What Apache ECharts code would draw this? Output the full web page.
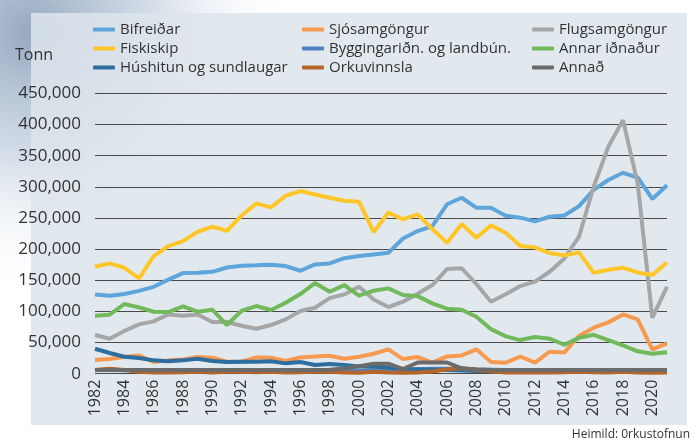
<!DOCTYPE html>
<html>
<head>
<meta charset="utf-8">
<script src="https://cdn.jsdelivr.net/npm/echarts@6/dist/echarts.min.js"></script>
<style>
  html, body { margin: 0; padding: 0; background: #fff; }
  #chart { width: 697px; height: 443px; }
</style>
</head>
<body>
<div id="chart"></div>
<script>
'use strict';

var years = [];
for (var y = 1982; y <= 2021; y++) years.push(String(y));

// tonn, lesið af myndinni
var bifreidar = [127000, 125000, 128000, 133000, 139500, 151000, 161500, 162000, 163500, 170500,
  173300, 174000, 175000, 172800, 165300, 175500, 177000, 185500, 189000, 191500,
  194000, 217000, 229000, 237000, 272000, 282500, 266500, 266500, 253500, 250500,
  244500, 252000, 254000, 269000, 295000, 311000, 322500, 315000, 280500, 302500];
var sjosamgongur = [21900, 23500, 27300, 29400, 18700, 21400, 23000, 26700, 25700, 19300,
  19300, 26200, 25700, 20300, 26200, 27800, 28900, 24100, 27300, 32000,
  39100, 23500, 26700, 17700, 27800, 29400, 39100, 18700, 17700, 27300,
  17700, 35300, 34200, 60500, 73800, 82400, 95200, 87200, 39100, 48700];
var flugsamgongur = [62100, 56200, 68500, 79200, 84000, 95200, 93100, 95200, 82900, 82900,
  77000, 72200, 78100, 87200, 100600, 105900, 121400, 127300, 139600, 119000,
  107000, 115600, 128500, 142300, 168000, 169300, 144000, 115600, 127500, 140700,
  147700, 163700, 185100, 219900, 300100, 364300, 407100, 305500, 89900, 139600];
var fiskiskip = [171700, 177100, 170100, 153000, 188900, 204900, 212900, 227900, 235900, 229500,
  254100, 273400, 267000, 285700, 293200, 287800, 282500, 277700, 276100, 227600,
  258900, 247700, 255700, 232200, 210300, 240200, 218300, 238100, 226300, 204900,
  202800, 193700, 189900, 194700, 162100, 166900, 170100, 162600, 158400, 178700];
var byggingaridn = [6000, 6000, 5500, 5500, 5000, 5000, 5000, 5000, 5000, 4500,
  4500, 4500, 4500, 4500, 4500, 4500, 4500, 4500, 4500, 5000,
  5000, 5500, 7000, 8000, 8000, 7500, 5000, 4500, 4500, 4500,
  4500, 4500, 4500, 4500, 4500, 4500, 4500, 4500, 4500, 4500];
var annarIdnadur = [93100, 94700, 111800, 106500, 99500, 99000, 108100, 99500, 102700, 78100,
  101100, 108600, 102200, 114000, 127900, 145500, 131600, 142300, 125200, 133200,
  137000, 126300, 124500, 112900, 104300, 102700, 91500, 71500, 60000, 54000,
  59000, 56200, 46500, 57500, 62500, 54000, 45500, 36000, 32000, 34500];
var hushitun = [40100, 33200, 27300, 25100, 21400, 19800, 21400, 24100, 20300, 18700,
  19000, 19000, 20000, 16600, 18700, 14000, 15500, 14000, 11500, 11000,
  10000, 7500, 7000, 6500, 6000, 5000, 4500, 4000, 4000, 4000,
  4000, 4000, 3500, 3500, 3500, 3500, 3500, 3500, 3500, 3500];
var orkuvinnsla = [6000, 8000, 6000, 3000, 2000, 2000, 2500, 3000, 2000, 3000,
  3000, 2500, 3000, 2000, 2500, 3000, 3000, 2000, 1500, 3000,
  2000, 1500, 2000, 3500, 7000, 9000, 6000, 4000, 2000, 2000,
  2500, 2000, 2500, 3000, 2500, 2000, 3000, 2000, 1500, 2000];
var annad = [6000, 6000, 6000, 6000, 6000, 6000, 6000, 6000, 6000, 6000,
  6000, 6000, 6000, 6000, 6000, 6000, 6500, 8500, 12000, 16000,
  16000, 7500, 18000, 18000, 18000, 8500, 7000, 6500, 6000, 6000,
  6000, 6000, 6000, 6000, 6000, 6000, 6000, 6000, 6000, 6000];

var seriesDefs = [
  { name: 'Bifreiðar', data: bifreidar, color: '#5da5da' },
  { name: 'Sjósamgöngur', data: sjosamgongur, color: '#f7994e' },
  { name: 'Flugsamgöngur', data: flugsamgongur, color: '#a6a6a6' },
  { name: 'Fiskiskip', data: fiskiskip, color: '#ffc629' },
  { name: 'Byggingariðn. og landbún.', data: byggingaridn, color: '#4f83c2' },
  { name: 'Annar iðnaður', data: annarIdnadur, color: '#70ba5c' },
  { name: 'Húshitun og sundlaugar', data: hushitun, color: '#2c6e9f' },
  { name: 'Orkuvinnsla', data: orkuvinnsla, color: '#b5642a' },
  { name: 'Annað', data: annad, color: '#6b6b6b' }
];

var font = '"Open Sans", "Noto Sans", sans-serif';

function legendCol(left, names) {
  return {
    orient: 'vertical',
    left: left,
    top: 20,
    padding: 0,
    itemGap: 0,
    itemWidth: 22,
    itemHeight: 4,
    icon: 'roundRect',
    data: names,
    textStyle: { fontFamily: font, fontSize: 15, lineHeight: 19, color: '#333' }
  };
}

var chart = echarts.init(document.getElementById('chart'));

var option = {
  animation: false,
  graphic: [
    {
      type: 'rect', z: -10, silent: true,
      shape: { x: 0, y: 0, width: 300, height: 320 },
      style: {
        fill: new echarts.graphic.RadialGradient(0.1, 0.1, 0.9, [
          { offset: 0, color: 'rgba(150,168,192,1)' },
          { offset: 0.45, color: 'rgba(200,212,226,0.8)' },
          { offset: 1, color: 'rgba(255,255,255,0)' }
        ])
      }
    },
    {
      type: 'rect', z: -9, silent: true,
      shape: { x: 31, y: 13, width: 656, height: 412 },
      style: { fill: 'rgba(221,229,235,0.86)' }
    },
    {
      type: 'text', left: 15, top: 47, z: 5,
      style: { text: 'Tonn', font: '16px ' + font, fill: '#333' }
    },
    {
      type: 'text', right: 7, top: 429, z: 5,
      style: { text: 'Heimild: 0rkustofnun', font: '12px ' + font, fill: '#333' }
    }
  ],
  legend: [
    legendCol(93, ['Bifreiðar', 'Fiskiskip', 'Húshitun og sundlaugar']),
    legendCol(302, ['Sjósamgöngur', 'Byggingariðn. og landbún.', 'Orkuvinnsla']),
    legendCol(532, ['Flugsamgöngur', 'Annar iðnaður', 'Annað'])
  ],
  grid: { left: 95, right: 30, top: 93.4, bottom: 69.3, outerBoundsMode: 'none' },
  xAxis: {
    type: 'category',
    data: years,
    boundaryGap: false,
    axisLine: { show: false },
    axisTick: { show: false },
    axisLabel: { rotate: 90, interval: 1, margin: 6, fontFamily: font, fontSize: 16, color: '#333' }
  },
  yAxis: {
    type: 'value',
    min: 0,
    max: 450000,
    interval: 50000,
    axisLine: { show: false },
    axisTick: { show: false },
    axisLabel: {
      margin: 14, fontFamily: font, fontSize: 17, color: '#333',
      formatter: function (v) { return v.toLocaleString('en-US'); }
    },
    splitLine: { lineStyle: { color: '#4a4a4a', width: 1 } }
  },
  series: seriesDefs.map(function (s) {
    return {
      name: s.name,
      type: 'line',
      data: s.data,
      showSymbol: false,
      color: s.color,
      lineStyle: { width: 4, color: s.color }
    };
  })
};

chart.setOption(option);
</script>
</body>
</html>
